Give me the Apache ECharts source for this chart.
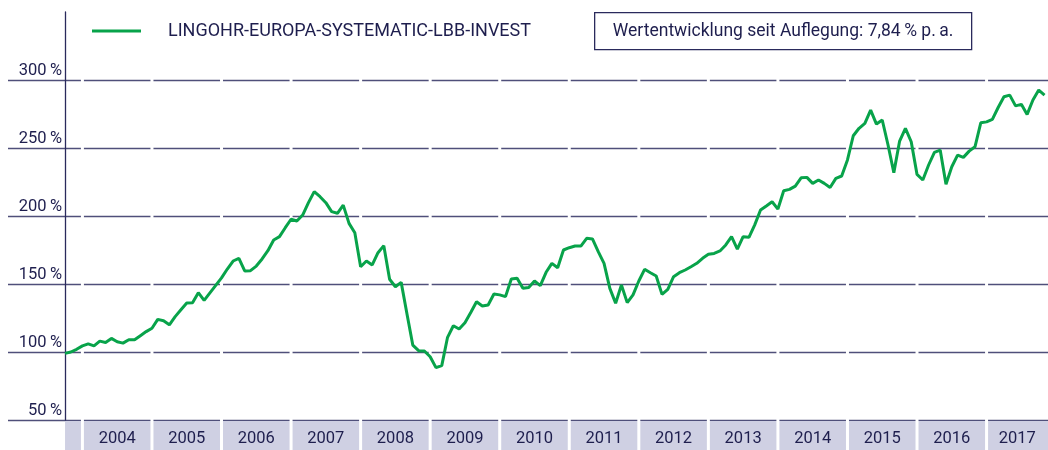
<!DOCTYPE html>
<html>
<head>
<meta charset="utf-8">
<script src="https://cdn.jsdelivr.net/npm/echarts@6/dist/echarts.min.js"></script>
<style>
html, body { margin: 0; padding: 0; background: #fff; }
#chart { width: 1048px; height: 450px; }
</style>
</head>
<body>
<div id="chart"></div>
<script>
// Wertentwicklung, Monatswerte ab Okt. 2003 (Index 0)
var fundName = 'LINGOHR-EUROPA-SYSTEMATIC-LBB-INVEST';
var perfNote = 'Wertentwicklung seit Auflegung: 7,84\u2009% p.\u2009a.';
var firstYear = 2003;
var firstMonth = 10;
var years = ['2004', '2005', '2006', '2007', '2008', '2009', '2010', '2011', '2012', '2013', '2014', '2015', '2016', '2017'];
var yTicks = [50, 100, 150, 200, 250, 300];
var values = [
  99, 100, 102, 104.5, 106, 104.5, 108, 107, 110, 107.5, 106.5, 109,
  109, 112, 115, 117.5, 124, 123, 120, 126, 131, 136, 136.3, 143.6,
  138, 143.5, 149, 154.5, 161, 166.9, 168.9, 159.6, 159.8, 163.2, 168.4, 174.5,
  182.4, 184.8, 191.4, 197.6, 196.3, 200.7, 209.8, 217.9, 214.2, 209.8, 203.2, 202,
  208, 194.6, 187.7, 162.7, 166.9, 164, 173, 178.2, 153.5, 148, 151.2, 128,
  105.1, 101, 100.7, 96.5, 88.5, 90, 110.8, 119.3, 116.9, 121.5, 129, 137,
  133.8, 134.6, 142.6, 142, 140.7, 153.7, 154.2, 146.8, 147.5, 152.2, 148.8, 158.6,
  165.2, 162, 175, 176.7, 177.9, 177.9, 183.6, 183.1, 173.8, 165.2, 146.8, 135.8,
  149.3, 136.3, 142, 152.2, 160.8, 158.3, 155.9, 142.4, 146.1, 155.4, 158.3, 160.3,
  162.7, 165.2, 168.9, 171.8, 172.5, 174.3, 178.7, 184.8, 175.7, 184.8, 184.3, 193.5,
  204.4, 207.4, 210.5, 205.1, 218.6, 219.6, 222, 228.1, 228.4, 224, 226.5, 224,
  221, 227.7, 229.4, 241.2, 259, 264.5, 268.1, 277.9, 267.6, 270.6, 252.2, 231.9,
  255.1, 264.4, 254.6, 230.6, 226.5, 237.5, 246.8, 248.5, 223.3, 236.2, 244.8, 243.1,
  247.7, 250.9, 268.5, 269.2, 271, 279.8, 287.7, 288.9, 281, 282.1, 274.7, 285.3,
  292.6, 288.9
];

var navy = '#1e1e4e';
var gridColor = '#4f4f7a';
var green = '#08a34a';
var font = 'Roboto, "Noto Sans", sans-serif';

// Jahresfelder unten: erst der Rest von 2003, dann je 12 Monate
var bands = [[0, 13 - firstMonth]];
var bandLabels = [''];
years.forEach(function (y) {
  var s = (Number(y) - firstYear) * 12 - (firstMonth - 1);
  bands.push([s, s + 12]);
  bandLabels.push(y);
});

var lineData = values.map(function (v, i) { return [i, v]; });

var myChart = echarts.init(document.getElementById('chart'));
myChart.setOption({
  animation: false,
  grid: { left: 8, right: 0, top: 12, bottom: 30, containLabel: false, outerBoundsMode: 'none' },
  legend: {
    left: 92,
    top: 22,
    padding: 0,
    icon: 'rect',
    itemWidth: 49,
    itemHeight: 3,
    data: [fundName],
    textStyle: { color: navy, fontSize: 18, fontFamily: font, padding: [0, 0, 0, 22] }
  },
  graphic: [{
    type: 'group',
    left: 594,
    top: 12,
    children: [
      { type: 'rect', shape: { x: 0, y: 0, width: 377, height: 37 },
        style: { fill: '#fff', stroke: '#2a2a5c', lineWidth: 1.3 } },
      { type: 'text', x: 188.5, y: 19,
        style: { text: perfNote, fill: navy, fontSize: 17.5, fontFamily: font, align: 'center', verticalAlign: 'middle' } }
    ]
  }],
  xAxis: {
    type: 'value',
    min: -9.84,
    max: 169.6,
    show: false,
    axisLine: { onZero: false },
    splitLine: { show: false }
  },
  yAxis: {
    type: 'value',
    min: 50,
    max: 350,
    interval: 50,
    z: 0,
    axisLine: { show: true, onZero: true, lineStyle: { color: '#2a2a5c', width: 1.3 } },
    axisTick: { show: false },
    axisLabel: {
      margin: -54,
      verticalAlign: 'bottom',
      color: navy,
      fontSize: 16.5,
      fontFamily: font,
      padding: [0, 0, 1, 0],
      formatter: function (v) { return yTicks.indexOf(v) >= 0 ? v + '\u2009%' : ''; }
    },
    splitLine: { show: true, showMaxLine: false, lineStyle: { color: gridColor, width: 1.3 } }
  },
  series: [
    {
      type: 'custom',
      clip: false,
      z: 2,
      silent: true,
      data: bands,
      renderItem: function (params, api) {
        var cs = params.coordSys;
        var start = api.value(0), end = api.value(1);
        var x0 = api.coord([start, 50])[0];
        var x1 = Math.min(api.coord([end, 50])[0], cs.x + cs.width);
        var yBase = api.coord([start, 50])[1];
        var children = [
          { type: 'rect', shape: { x: x0, y: yBase + 1, width: x1 - x0, height: 30 },
            style: { fill: '#cfd0e3' } },
          { type: 'text', x: (x0 + x1) / 2, y: yBase + 19,
            style: { text: bandLabels[params.dataIndex], fill: navy, fontSize: 16.5, fontFamily: font,
                     align: 'center', verticalAlign: 'middle' } }
        ];
        if (params.dataIndex > 0) {
          children.push({ type: 'rect', shape: { x: x0 - 1.5, y: cs.y + 50, width: 3, height: cs.height - 18 },
            style: { fill: '#fff' } });
        }
        return { type: 'group', children: children };
      }
    },
    {
      name: fundName,
      type: 'line',
      z: 3,
      data: lineData,
      symbol: 'none',
      color: green,
      lineStyle: { color: green, width: 3 }
    }
  ]
});
</script>
</body>
</html>
